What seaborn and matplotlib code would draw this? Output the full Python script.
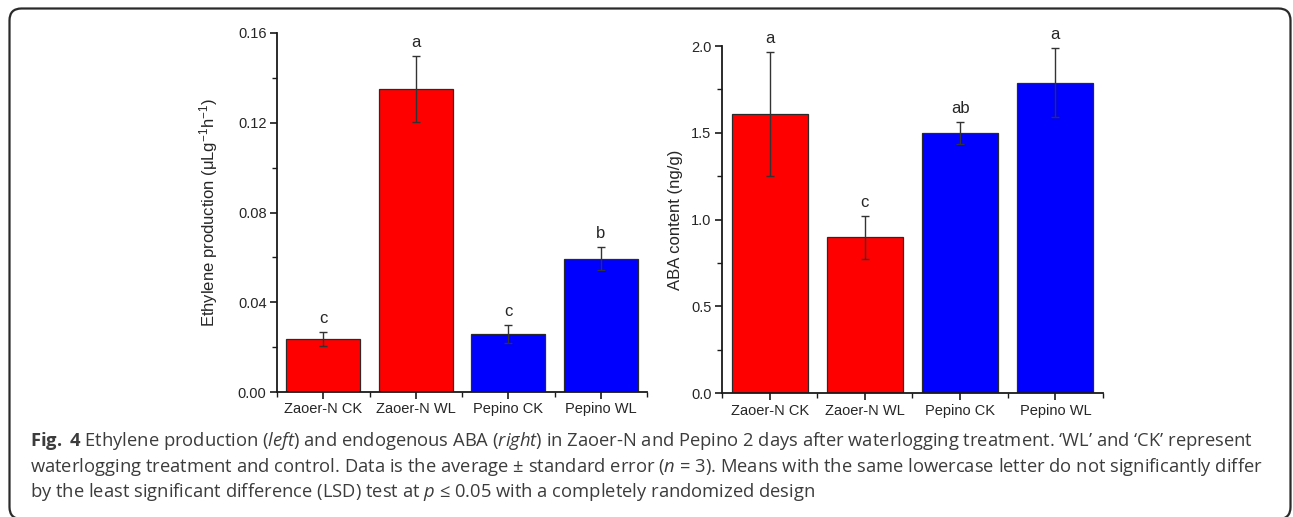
import numpy as np
import pandas as pd
import seaborn as sns
import matplotlib
matplotlib.use("Agg")
import matplotlib.pyplot as plt
from matplotlib.patches import FancyBboxPatch
from matplotlib.ticker import MultipleLocator, FixedLocator

# ---------------- data ----------------
categories = ["Zaoer-N CK", "Zaoer-N WL", "Pepino CK", "Pepino WL"]
ethylene_mean = [0.0238, 0.1350, 0.0257, 0.0594]
ethylene_se = [0.0031, 0.0146, 0.0040, 0.0052]
ethylene_letters = ["c", "a", "c", "b"]
aba_mean = [1.606, 0.898, 1.499, 1.788]
aba_se = [0.357, 0.124, 0.061, 0.198]
aba_letters = ["a", "c", "ab", "a"]
bar_colors = ["#FF0000", "#FF0000", "#0000FF", "#0000FF"]
eth_ticks = [0.00, 0.04, 0.08, 0.12, 0.16]
eth_ticklabels = ["0.00", "0.04", "0.08", "0.12", "0.16"]
aba_ticks = [0.0, 0.5, 1.0, 1.5, 2.0]
aba_ticklabels = ["0.0", "0.5", "1.0", "1.5", "2.0"]

caption_lines = [
    r"$\mathbf{Fig.}$ $\mathbf{4}$ Ethylene production ($\mathit{left}$) and endogenous ABA ($\mathit{right}$) in Zaoer-N and Pepino 2 days after waterlogging treatment. ‘WL’ and ‘CK’ represent",
    r"waterlogging treatment and control. Data is the average ± standard error ($\mathit{n}$ = 3). Means with the same lowercase letter do not significantly differ",
    r"by the least significant difference (LSD) test at $\mathit{p}$ ≤ 0.05 with a completely randomized design",
]

# ---------------- style ----------------
sns.set_style("ticks")
plt.rcParams["font.family"] = ["Liberation Sans", "DejaVu Sans"]
plt.rcParams["mathtext.fontset"] = "custom"
plt.rcParams["mathtext.rm"] = "Open Sans"
plt.rcParams["mathtext.it"] = "Open Sans:italic"
plt.rcParams["mathtext.bf"] = "Open Sans:bold"

W, H = 1293, 517
fig = plt.figure(figsize=(W / 100, H / 100), dpi=100)

def axes_px(x0, x1, ytop, ybot):
    return fig.add_axes([x0 / W, (H - ybot) / H, (x1 - x0) / W, (ybot - ytop) / H])

ax1 = axes_px(277, 647, 33, 392)
ax2 = axes_px(722, 1103, 46, 393.3)

TICK_FS = 10.5
LETTER_FS = 12
EDGE = "#2a2a2a"

def draw(ax, means, ses, letters, ticks, ticklabels, ylabel, minor, label_x):
    df = pd.DataFrame({"group": categories, "value": means})
    sns.barplot(data=df, x="group", y="value", hue="group",
                palette=dict(zip(categories, bar_colors)), legend=False,
                errorbar=None, width=0.8, saturation=1,
                edgecolor=EDGE, linewidth=0.9, ax=ax)
    xs = np.arange(len(categories))
    ax.errorbar(xs, means, yerr=ses, fmt="none", ecolor="#333333",
                elinewidth=1.0, capsize=3.2, capthick=1.0, zorder=5)
    for x, m, s, t in zip(xs, means, ses, letters):
        ax.annotate(t, (x, m + s), xytext=(0, 6.5), textcoords="offset points",
                    ha="center", va="baseline", fontsize=LETTER_FS)
    ax.set_xlim(-0.5, 3.5)
    ax.set_ylim(ticks[0], ticks[-1])
    ax.set_yticks(ticks)
    ax.set_yticklabels(ticklabels, fontsize=TICK_FS)
    ax.yaxis.set_minor_locator(MultipleLocator(minor))
    ax.xaxis.set_minor_locator(FixedLocator([-0.5, 0.5, 1.5, 2.5, 3.5]))
    ax.set_xticks(xs)
    ax.set_xticklabels(categories, fontsize=TICK_FS)
    ax.set_xlabel("")
    ax.set_ylabel(ylabel, fontsize=12)
    ax.yaxis.set_label_coords(label_x, 0.5)
    sns.despine(ax=ax)
    for sp in ["left", "bottom"]:
        ax.spines[sp].set_linewidth(1.3)
        ax.spines[sp].set_color("#1a1a1a")
    ax.tick_params(which="major", direction="out", length=5, width=1.2,
                   color="#1a1a1a", pad=2.5)
    ax.tick_params(which="minor", direction="out", length=3.5, width=1.0,
                   color="#1a1a1a")

draw(ax1, ethylene_mean, ethylene_se, ethylene_letters, eth_ticks, eth_ticklabels,
     r"Ethylene production (μLg$^{\mathdefault{-1}}$h$^{\mathdefault{-1}}$)", 0.02,
     (220 - 277) / 370)
draw(ax2, aba_mean, aba_se, aba_letters, aba_ticks, aba_ticklabels,
     "ABA content (ng/g)", 0.25, (683 - 722) / 381)

# caption
baselines = [446, 471.5, 497]
for line, yb in zip(caption_lines, baselines):
    fig.text(30 / W, (H - yb) / H, line, family="Open Sans", fontsize=13.2,
             color="#3c3c3c", ha="left", va="baseline")

# rounded frame
frame = FancyBboxPatch((9.5, -2), 1281, 510.5,
                       boxstyle="round,pad=0,rounding_size=12",
                       transform=None, fill=False, edgecolor="#2a2a2a",
                       linewidth=1.6)
fig.patches.append(frame)

fig.savefig("out.png", dpi=100)
